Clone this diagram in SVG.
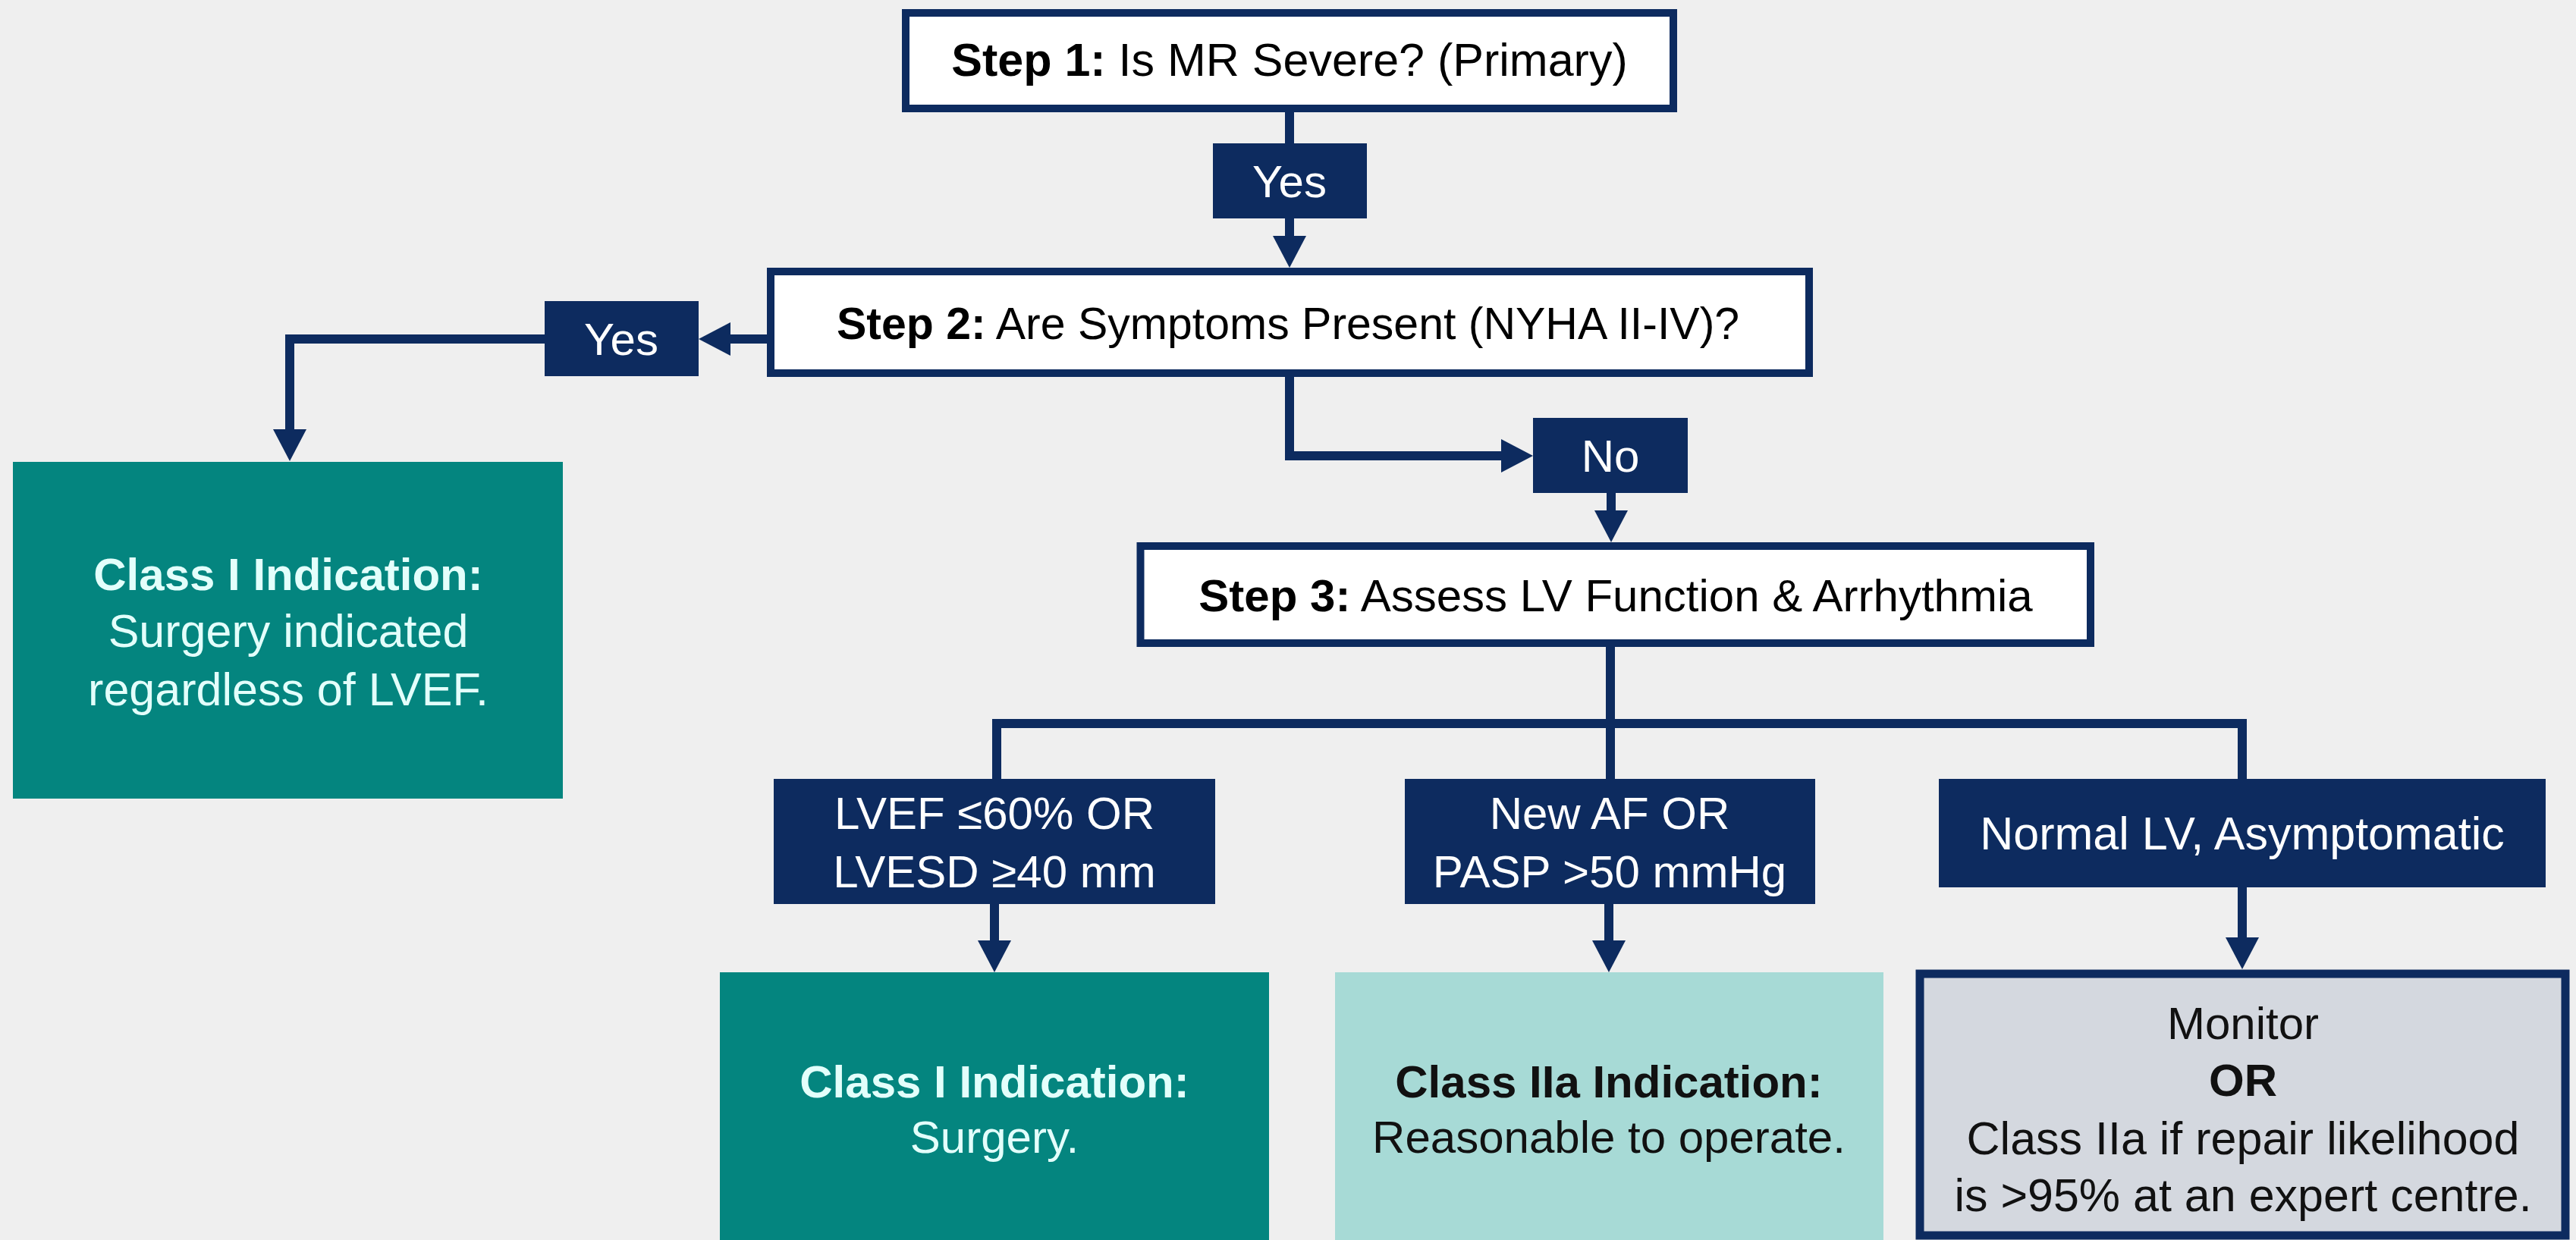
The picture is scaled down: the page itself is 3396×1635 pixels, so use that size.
<svg xmlns="http://www.w3.org/2000/svg" width="3396" height="1635" viewBox="0 0 3396 1635">
<defs>
<style>
text{font-family:"Liberation Sans",Arial,sans-serif;font-size:60px;text-anchor:middle}
.b{font-weight:bold}
.step{fill:#ffffff;stroke:#0d2b5f;stroke-width:10}
.lbl{fill:#0d2b5f}
.wt{fill:#ffffff}
.lt{fill:#e3fffb}
.dk{fill:#111111}
.big{font-size:61px}
.conn{fill:none;stroke:#0d2b5f;stroke-width:12;stroke-linejoin:miter}
</style>
<marker id="ah" viewBox="0 0 42 44" refX="12" refY="22" markerWidth="42" markerHeight="44" markerUnits="userSpaceOnUse" orient="auto">
<path d="M0,0 L42,22 L0,44 Z" fill="#0d2b5f"/>
</marker>
</defs>
<rect x="0" y="0" width="3396" height="1635" fill="#efefef"/>

<g id="connectors">
<path class="conn" d="M1700,145 V192"/>
<path class="conn" d="M1700,285 V323" marker-end="url(#ah)"/>
<path class="conn" d="M1014,447 H951" marker-end="url(#ah)"/>
<path class="conn" d="M720,447 H382 V578" marker-end="url(#ah)"/>
<path class="conn" d="M1700,495 V601 H1991" marker-end="url(#ah)"/>
<path class="conn" d="M2124,648 V685" marker-end="url(#ah)"/>
<path class="conn" d="M2123,850 V1030"/>
<path class="conn" d="M1314,1030 V954 H2956 V1030"/>
<path class="conn" d="M1311,1190 V1252" marker-end="url(#ah)"/>
<path class="conn" d="M2121,1190 V1252" marker-end="url(#ah)"/>
<path class="conn" d="M2956,1168 V1248" marker-end="url(#ah)"/>
</g>

<g id="step1">
<rect class="step" x="1194" y="17" width="1012" height="126"/>
<text class="big" x="1700" y="100"><tspan class="b">Step 1:</tspan> Is MR Severe? (Primary)</text>
</g>

<g id="yes1">
<rect class="lbl" x="1599" y="189" width="203" height="99"/>
<text class="wt" x="1700" y="260">Yes</text>
</g>

<g id="step2">
<rect class="step" x="1016" y="358" width="1369" height="134"/>
<text x="1698" y="447" style="font-size:59px"><tspan class="b">Step 2:</tspan> Are Symptoms Present (NYHA II-IV)?</text>
</g>

<g id="yes2">
<rect class="lbl" x="718" y="397" width="203" height="99"/>
<text class="wt" x="819" y="468">Yes</text>
</g>

<g id="classI-left">
<rect x="17" y="609" width="725" height="444" fill="#04857f"/>
<text class="lt b" x="380" y="778">Class I Indication:</text>
<text class="lt big" x="380" y="853">Surgery indicated</text>
<text class="lt big" x="380" y="930">regardless of LVEF.</text>
</g>

<g id="no">
<rect class="lbl" x="2021" y="551" width="204" height="99"/>
<text class="wt" x="2123" y="622">No</text>
</g>

<g id="step3">
<rect class="step" x="1503.5" y="720" width="1252.5" height="128"/>
<text x="2130" y="806"><tspan class="b">Step 3:</tspan> Assess LV Function &amp; Arrhythmia</text>
</g>

<g id="lvef">
<rect class="lbl" x="1020" y="1027" width="582" height="165"/>
<text class="wt" x="1311" y="1093">LVEF ≤60% OR</text>
<text class="wt" x="1311" y="1170">LVESD ≥40 mm</text>
</g>

<g id="af">
<rect class="lbl" x="1852" y="1027" width="541" height="165"/>
<text class="wt" x="2122" y="1093">New AF OR</text>
<text class="wt" x="2122" y="1170">PASP &gt;50 mmHg</text>
</g>

<g id="normal">
<rect class="lbl" x="2556" y="1027" width="800" height="143"/>
<text class="wt big" x="2956" y="1120">Normal LV, Asymptomatic</text>
</g>

<g id="classI-surgery">
<rect x="949" y="1282" width="724" height="360" fill="#04857f"/>
<text class="lt b" x="1311" y="1447">Class I Indication:</text>
<text class="lt" x="1311" y="1520">Surgery.</text>
</g>

<g id="classIIa">
<rect x="1760" y="1282" width="723" height="360" fill="#a7dad6"/>
<text class="dk b" x="2121" y="1447">Class IIa Indication:</text>
<text class="dk" x="2121" y="1520">Reasonable to operate.</text>
</g>

<g id="monitor">
<rect x="2531" y="1284" width="851" height="345" fill="#d4d8df" stroke="#0d2b5f" stroke-width="11"/>
<text class="dk" x="2957" y="1370">Monitor</text>
<text class="dk b" x="2957" y="1445">OR</text>
<text class="dk big" x="2957" y="1522">Class IIa if repair likelihood</text>
<text class="dk big" x="2957" y="1597">is &gt;95% at an expert centre.</text>
</g>
</svg>
